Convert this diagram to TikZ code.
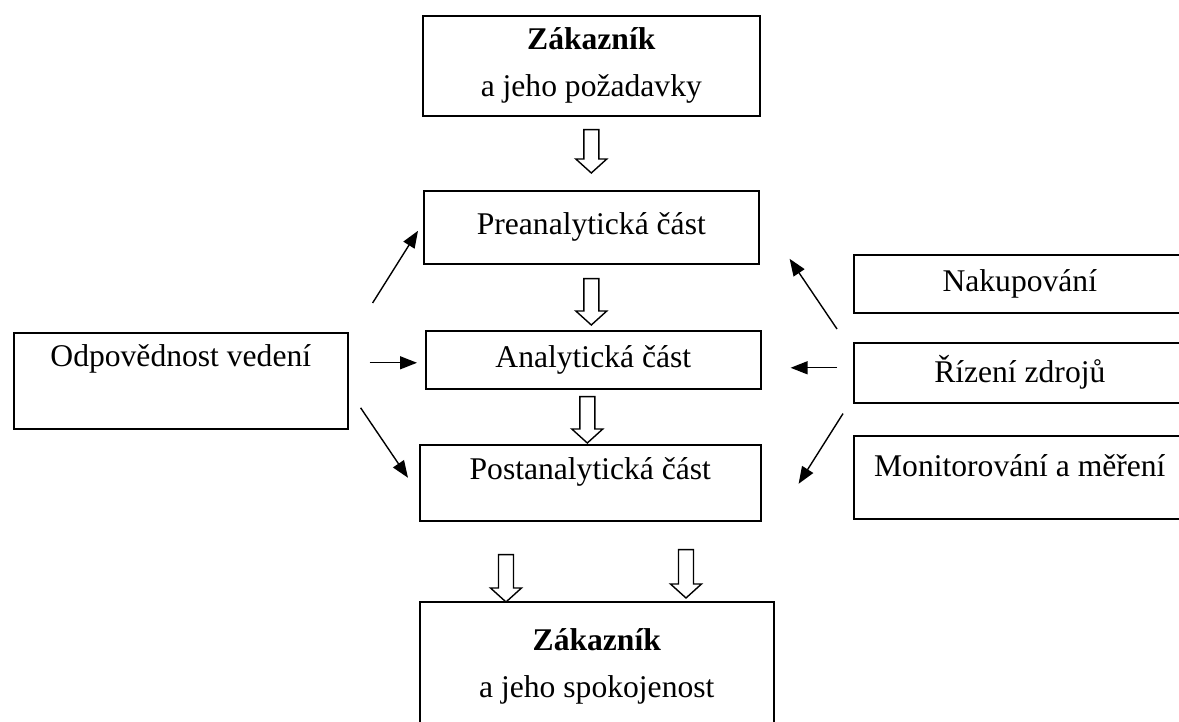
\documentclass[tikz,border=0pt]{standalone}
\usepackage{fontspec}
\setmainfont{Liberation Serif}
\usetikzlibrary{calc,arrows.meta}

% hollow block arrow, straight down from #1 to the tip #2
\newcommand{\hollowarrow}[2]{%
  \draw[black, line width=0.7pt, fill=white] let \p1=#1, \p2=#2 in
    (\x1-3.75pt,\y1)--(\x1+3.75pt,\y1)--(\x1+3.75pt,\y2+7pt)--(\x1+7.75pt,\y2+7pt)
    --(\x1,\y2)--(\x1-7.75pt,\y2+7pt)--(\x1-3.75pt,\y2+7pt)--cycle;}

\begin{document}
\begin{tikzpicture}[x=0.5pt, y=0.5pt,
	stage/.style={draw, black, line width=0.8pt, anchor=north west, inner sep=0pt,
		font=\fontsize{15.8}{23.5}\selectfont},
	thinarrow/.style={black, line width=0.7pt, -{Triangle[length=8.5pt, width=6.5pt]}}]
	\useasboundingbox (0,0) rectangle (1179,722);
	\clip (0,0) rectangle (1179,722);
	% middle column
	\node[stage, minimum width=168.5pt, minimum height=50pt, align=center] (cust) at (422,707) {\textbf{Zákazník}\\a jeho požadavky};
	\node[stage, minimum width=167.5pt, minimum height=36.5pt] (pre) at (423,532) {Preanalytická část};
	\node[stage, minimum width=167.5pt, minimum height=29pt] (ana) at (425,392) {Analytická část};
	\node[stage, minimum width=170.5pt, text height=17.5pt, text depth=20.5pt] (post) at (419,278) {Postanalytická část};
	\node[stage, minimum width=177pt, minimum height=65pt, align=center] (happy) at (419,121) {\textbf{Zákazník}\\a jeho spokojenost};
	% left and right
	\node[stage, minimum width=167pt, text height=17pt, text depth=31pt] (lead) at (13,390) {Odpovědnost vedení};
	\node[stage, minimum width=166pt, minimum height=29pt] (buy) at (853,468) {Nakupování};
	\node[stage, minimum width=166pt, minimum height=30pt] (res) at (853,380) {Řízení zdrojů};
	\node[stage, minimum width=166pt, text height=20.5pt, text depth=21pt] (mon) at (853,287) {Monitorování a měření};
	% block arrows
	\hollowarrow{($(cust.south)+(0,-13)$)}{($(pre.north)+(0,17)$)}
	\hollowarrow{($(pre.south)+(0,-14)$)}{($(ana.north)+(0,5)$)}
	\hollowarrow{($(ana.south)+(-6,-7)$)}{($(post.north)+(0,1)$)}
	\hollowarrow{($(post.south west)+(87,-33)$)}{($(happy.north west)+(87,-1)$)}
	\hollowarrow{($(post.south west)+(267,-28)$)}{($(happy.north west)+(267,3)$)}
	% thin arrows
	\draw[thinarrow] ($(lead.north east)+(24,29)$) -- ($(pre.west)+(-5,-3.5)$);
	\draw[thinarrow] ($(lead.east)+(21,18)$) -- ($(ana.west)+(-8,-3)$);
	\draw[thinarrow] ($(lead.east)+(12,-27)$) -- ($(post.west)+(-11,5)$);
	\draw[thinarrow] ($(res.north west)+(-16,13)$) -- ($(pre.east)+(30,-31.5)$);
	\draw[thinarrow] ($(res.west)+(-16,5)$) -- ($(ana.east)+(29,-8)$);
	\draw[thinarrow] ($(res.south west)+(-10,-10)$) -- ($(post.east)+(37,-1)$);
\end{tikzpicture}
\end{document}
